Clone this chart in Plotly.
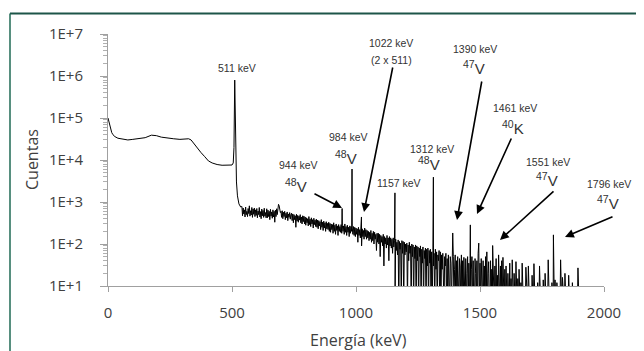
import plotly.graph_objects as go

# ---------------- data ----------------
# smooth low-energy part of the spectrum (keV, counts)
low_energy = [0, 3, 6, 10, 15, 20, 28, 40, 60, 80, 100, 125, 150, 175, 195, 215,
              240, 265, 290, 310, 325, 335, 345, 360, 375, 390, 405, 420, 440,
              460, 480, 500, 505, 508, 511, 514, 518, 522, 528, 535]
low_counts = [1.0e5, 8.5e4, 6.5e4, 5.2e4, 4.5e4, 4.0e4, 3.6e4, 3.3e4, 3.1e4, 3.0e4,
              3.1e4, 3.2e4, 3.4e4, 3.9e4, 3.8e4, 3.5e4, 3.3e4, 3.2e4, 3.1e4, 3.1e4,
              3.2e4, 3.0e4, 2.5e4, 1.9e4, 1.5e4, 1.2e4, 9.5e3, 8.5e3, 7.8e3,
              7.5e3, 7.4e3, 7.6e3, 8.5e3, 2.0e4, 8.0e5, 5.0e4, 3.0e3, 1.4e3, 900, 760]

# noisy continuum, one value every 2.5 keV from 540 to 1900 keV (20 per row = 50 keV)
noise_start, noise_step = 540.0, 2.5
noise_counts = [
    780, 470, 720, 520, 650, 440, 760, 500, 600, 450, 700, 530, 810, 460, 620, 490, 740, 430, 680, 510,   # 540
    720, 450, 650, 480, 700, 420, 610, 500, 740, 440, 590, 400, 680, 470, 630, 430, 710, 460, 560, 420,   # 590
    690, 420, 640, 450, 600, 380, 670, 460, 580, 410, 650, 440, 600, 330, 640, 450, 690, 500, 760, 880,   # 640
    820, 650, 560, 600, 430, 620, 400, 570, 450, 600, 380, 540, 420, 580, 360, 520, 430, 560, 390, 500,   # 690
    540, 360, 520, 320, 500, 380, 470, 250, 510, 350, 480, 330, 460, 370, 500, 320, 440, 300, 470, 340,   # 740
    460, 300, 440, 280, 420, 320, 400, 270, 450, 290, 390, 260, 420, 300, 380, 240, 410, 290, 370, 260,   # 790
    390, 250, 370, 230, 360, 270, 340, 220, 380, 250, 330, 210, 350, 240, 320, 200, 340, 230, 310, 220,   # 840
    330, 200, 310, 190, 300, 220, 290, 180, 320, 200, 280, 170, 300, 210, 270, 160, 290, 200, 260, 190,   # 890
    290, 180, 280, 200, 270, 170, 300, 190, 260, 160, 280, 190, 250, 150, 270, 180, 260, 200, 240, 170,   # 940
    260, 160, 250, 150, 240, 170, 230, 110, 250, 160, 220, 140, 240, 90, 230, 150, 210, 130, 240, 150,    # 990
    220, 130, 210, 140, 200, 120, 190, 130, 210, 110, 180, 120, 200, 100, 190, 130, 170, 70, 180, 110,    # 1040
    180, 100, 170, 50, 160, 110, 150, 90, 170, 30, 150, 100, 140, 80, 160, 95, 140, 40, 150, 90,          # 1090
    140, 80, 130, 60, 140, 85, 120, 4, 130, 70, 110, 55, 125, 3, 115, 75, 105, 4, 120, 60,                # 1140
    115, 3, 110, 55, 100, 65, 105, 4, 95, 40, 110, 60, 90, 3, 100, 50, 95, 3, 85, 45,                     # 1190
    95, 3, 90, 40, 85, 3, 80, 50, 90, 3, 75, 35, 85, 3, 70, 45, 80, 3, 75, 30,                            # 1240
    80, 3, 70, 35, 75, 3, 65, 3, 70, 30, 60, 3, 75, 25, 65, 3, 55, 40, 70, 3,                             # 1290
    65, 3, 55, 25, 60, 3, 3, 50, 30, 60, 3, 45, 3, 55, 20, 3, 50, 35, 3, 55,                              # 1340
    3, 50, 3, 25, 55, 3, 40, 3, 50, 20, 3, 45, 30, 3, 55, 3, 40, 3, 48, 25,                               # 1390
    3, 45, 3, 20, 50, 3, 35, 3, 45, 3, 25, 50, 3, 40, 3, 3, 45, 20, 3, 40,                                # 1440
    3, 60, 105, 3, 35, 3, 45, 15, 3, 40, 3, 30, 3, 50, 3, 65, 3, 20, 38, 3,                               # 1490
    3, 40, 3, 25, 3, 35, 3, 3, 30, 3, 45, 3, 18, 3, 55, 3, 3, 30, 3, 40,                                  # 1540
    3, 48, 3, 3, 25, 3, 30, 3, 3, 20, 3, 3, 35, 3, 15, 3, 42, 3, 3, 20,                                   # 1590
    3, 3, 38, 3, 3, 15, 3, 25, 3, 3, 12, 3, 35, 3, 3, 10, 3, 3, 28, 3,                                    # 1640
    3, 3, 30, 3, 3, 10, 3, 3, 18, 3, 3, 34, 3, 3, 8, 3, 3, 12, 3, 3,                                      # 1690
    30, 3, 3, 8, 3, 3, 14, 3, 3, 20, 3, 3, 6, 3, 42, 3, 3, 10, 3, 3,                                      # 1740
    12, 3, 3, 3, 3, 14, 3, 3, 12, 3, 6, 3, 3, 3, 42, 3, 3, 16, 3, 3,                                      # 1790
    3, 20, 3, 3, 8, 3, 3, 18, 3, 3, 6, 3, 3, 12, 3, 3, 8, 3, 3, 3,                                        # 1840
    3, 3, 27, 3, 3,                                                                                        # 1890
]

# labelled peaks (keV, counts at the top of the line)
peak_energy = [944, 984, 1022, 1157, 1312, 1390, 1461, 1551, 1796]
peak_counts = [700, 6100, 440, 1650, 3900, 183, 285, 92, 165]

# axis ticks
x_ticks = [0, 500, 1000, 1500, 2000]
y_ticks = [1e1, 1e2, 1e3, 1e4, 1e5, 1e6, 1e7]
y_tick_text = ["1E+1", "1E+2", "1E+3", "1E+4", "1E+5", "1E+6", "1E+7"]

# ---------------- assemble spectrum ----------------
spectrum = dict(zip(low_energy, low_counts))
for i, c in enumerate(noise_counts):
    spectrum[noise_start + i * noise_step] = c
for e, c in zip(peak_energy, peak_counts):
    spectrum[float(e)] = c
energies = sorted(spectrum)
counts = [spectrum[e] for e in energies]

fig = go.Figure()
fig.add_trace(go.Scatter(x=energies, y=counts, mode="lines",
                         line=dict(color="black", width=1),
                         hoverinfo="skip", showlegend=False))

# ---------------- layout ----------------
PAGE_OFF = 8                            # browser body margin
W, H = 644 - PAGE_OFF, 351 - PAGE_OFF
L, R, T, B = 108, 604, 34, 286          # plot area in page pixels


def paper(px, py):
    return (px - L) / (R - L), (B - py) / (B - T)


TEXT_FONT = dict(family="Liberation Sans, Arial, sans-serif", size=10.5, color="#333333")
ISO_FONT = dict(family="Liberation Sans, Arial, sans-serif", size=15, color="#333333")

labels = [
    ("511 keV", 237, 68, TEXT_FONT),
    ("1022 keV", 391, 43, TEXT_FONT),
    ("(2 x 511)", 391, 60, TEXT_FONT),
    ("984 keV", 348, 137, TEXT_FONT),
    ("<sup>48</sup>V", 346, 157, ISO_FONT),
    ("944 keV", 298, 165, TEXT_FONT),
    ("<sup>48</sup>V", 296, 185, ISO_FONT),
    ("1157 keV", 399, 183, TEXT_FONT),
    ("1312 keV", 432, 149, TEXT_FONT),
    ("<sup>48</sup>V", 429, 163, ISO_FONT),
    ("1390 keV", 475, 49, TEXT_FONT),
    ("<sup>47</sup>V", 474, 68, ISO_FONT),
    ("1461 keV", 515, 108, TEXT_FONT),
    ("<sup>40</sup>K", 513, 127, ISO_FONT),
    ("1551 keV", 548, 162, TEXT_FONT),
    ("<sup>47</sup>V", 547, 180, ISO_FONT),
    ("1796 keV", 609, 184, TEXT_FONT),
    ("<sup>47</sup>V", 608, 202, ISO_FONT),
]
annotations = []
for text, px, py, font in labels:
    x, y = paper(px, py)
    annotations.append(dict(text=text, x=x, y=y, xref="paper", yref="paper",
                            xanchor="center", yanchor="middle", showarrow=False,
                            font=font))

# arrows: (tail px, tail py, head px, head py)
arrows = [
    (313, 193, 342, 208),
    (393, 66, 364, 212),
    (482, 80, 457, 220),
    (512, 137, 477, 214),
    (555, 190, 500, 240),
    (614, 216, 565, 237),
]
for tx, ty, hx, hy in arrows:
    x, y = paper(hx, hy)
    annotations.append(dict(text="", x=x, y=y, xref="paper", yref="paper",
                            ax=tx - hx, ay=ty - hy, axref="pixel", ayref="pixel",
                            showarrow=True, arrowhead=2, arrowsize=1.1,
                            arrowwidth=1.6, arrowcolor="black", standoff=0))

# axis titles
AX_FONT = dict(family="Open Sans, sans-serif", size=16, color="#404040")
x, y = paper(32, 160)
annotations.append(dict(text="Cuentas", x=x, y=y, xref="paper", yref="paper",
                        textangle=-90, showarrow=False, font=AX_FONT,
                        xanchor="center", yanchor="middle"))
x, y = paper(358, 340)
annotations.append(dict(text="Energía (keV)", x=x, y=y, xref="paper", yref="paper",
                        showarrow=False, font=AX_FONT,
                        xanchor="center", yanchor="middle"))

# frame (top and left edges, dark green)
x0, y0 = paper(10, 13.5)
x1, _ = paper(644, 13.5)
_, y1 = paper(10, 351)
shapes = [
    dict(type="line", xref="paper", yref="paper", x0=x0, y0=y0, x1=x1, y1=y0,
         line=dict(color="#1d5548", width=2)),
    dict(type="line", xref="paper", yref="paper", x0=x0, y0=y0, x1=x0, y1=y1,
         line=dict(color="#1f6a55", width=1.5)),
]

minor_vals = [m * 10 ** k for k in range(1, 7) for m in range(2, 10)]

fig.update_layout(
    width=W, height=H,
    margin=dict(l=L - PAGE_OFF, r=(644 - R), t=T - PAGE_OFF, b=(351 - B), pad=0),
    paper_bgcolor="white", plot_bgcolor="white",
    font=dict(family="Open Sans, sans-serif", size=15, color="#404040"),
    annotations=annotations, shapes=shapes, showlegend=False,
    xaxis=dict(range=[0, 2000], tickvals=x_ticks, showgrid=False, zeroline=False,
               showline=True, linecolor="#a0a0a0", linewidth=1,
               ticks="outside", ticklen=5, tickcolor="#a0a0a0",
               tickfont=dict(size=15, color="#404040"), ticklabelstandoff=8),
    yaxis=dict(type="log", range=[1, 7], tickvals=y_ticks, ticktext=y_tick_text,
               showgrid=False, zeroline=False, showline=True,
               linecolor="#a0a0a0", linewidth=1, ticks="outside", ticklen=7,
               tickcolor="#a0a0a0", tickfont=dict(size=15, color="#404040"),
               ticklabelstandoff=14,
               minor=dict(tickmode="array", tickvals=minor_vals, ticks="outside",
                          ticklen=4, tickcolor="#b0b0b0")),
)

fig.write_html("out.html")
